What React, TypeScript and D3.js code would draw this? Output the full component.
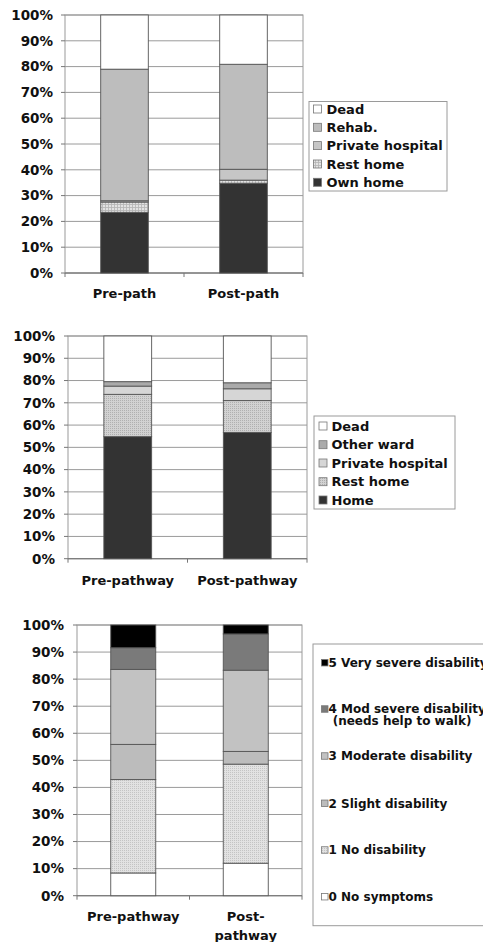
import React from "react";
import * as d3 from "d3";

// ---------- Chart 1 data ----------
const CATS1 = ["Pre-path", "Post-path"];
const SERIES1 = ["Own home", "Rest home", "Private hospital", "Rehab.", "Dead"];
const OWN_HOME1 = [23.5, 34.8];
const REST_HOME1 = [4.0, 1.2];
const PRIVATE_HOSP1 = [0.5, 4.2];
const REHAB1 = [51.0, 40.7];
const DEAD1 = [21.0, 19.1];

// ---------- Chart 2 data ----------
const CATS2 = ["Pre-pathway", "Post-pathway"];
const SERIES2 = ["Home", "Rest home", "Private hospital", "Other ward", "Dead"];
const HOME2 = [54.8, 56.7];
const REST_HOME2 = [19.0, 14.3];
const PRIVATE_HOSP2 = [3.7, 5.3];
const OTHER_WARD2 = [2.0, 2.7];
const DEAD2 = [20.5, 21.0];

// ---------- Chart 3 data ----------
const CATS3 = ["Pre-pathway", "Post-pathway"];
const CAT_LINES3 = [["Pre-pathway"], ["Post-", "pathway"]];
const SERIES3 = [
  "0 No symptoms",
  "1 No disability",
  "2 Slight disability",
  "3 Moderate disability",
  "4 Mod severe disability",
  "5 Very severe disability",
];
const NO_SYMPTOMS3 = [8.4, 12.0];
const NO_DISABILITY3 = [34.5, 36.6];
const SLIGHT3 = [13.0, 4.7];
const MODERATE3 = [27.7, 30.0];
const MOD_SEVERE3 = [8.0, 13.4];
const VERY_SEVERE3 = [8.4, 3.3];

const Y_TICKS = [0, 10, 20, 30, 40, 50, 60, 70, 80, 90, 100];

const FONT = "'DejaVu Sans', Verdana, sans-serif";

type Layout = {
  left: number;
  right: number;
  top: number;
  bottom: number;
  barFrac: number;
  tickLabelX: number;
  xLabelY: number;
};

function buildRows(cats: string[], series: string[], cols: number[][]) {
  return cats.map((c, i) => {
    const row: any = { cat: c };
    series.forEach((s, j) => (row[s] = cols[j][i]));
    return row;
  });
}

function StackChart(props: {
  cats: string[];
  catLines?: string[][];
  series: string[];
  cols: number[][];
  fills: string[];
  L: Layout;
}) {
  const { cats, series, cols, fills, L } = props;
  const rows = buildRows(cats, series, cols);
  const stack = d3.stack<any>().keys(series)(rows);
  const x = d3.scaleBand<string>().domain(cats).range([L.left, L.right]).padding(0);
  const y = d3.scaleLinear().domain([0, 100]).range([L.bottom, L.top]);
  const bw = x.bandwidth() * L.barFrac;
  const grid = "#9a9a9a";
  return (
    <g>
      <rect x={L.left} y={L.top} width={L.right - L.left} height={L.bottom - L.top} fill="#fff" stroke={grid} strokeWidth={1} />
      {Y_TICKS.map((t) => (
        <g key={t}>
          <line x1={L.left} x2={L.right} y1={y(t)} y2={y(t)} stroke={grid} strokeWidth={1} />
          <line x1={L.left - 4} x2={L.left} y1={y(t)} y2={y(t)} stroke="#777" strokeWidth={1} />
          <text x={L.tickLabelX} y={y(t)} dy="0.36em" textAnchor="end" fontFamily={FONT} fontWeight="bold" fontSize={13.5} fill="#111">
            {t}%
          </text>
        </g>
      ))}
      <line x1={L.left} x2={L.right} y1={L.bottom} y2={L.bottom} stroke="#777" strokeWidth={1} />
      {[L.left, (L.left + L.right) / 2, L.right].map((tx, i) => (
        <line key={i} x1={tx} x2={tx} y1={L.bottom} y2={L.bottom + 4} stroke="#777" strokeWidth={1} />
      ))}
      {stack.map((layer, si) =>
        layer.map((d, ci) => {
          const cx = (x(cats[ci]) as number) + x.bandwidth() / 2;
          return (
            <rect
              key={si + "-" + ci}
              x={cx - bw / 2}
              y={y(d[1])}
              width={bw}
              height={y(d[0]) - y(d[1])}
              fill={fills[si]}
              stroke="#555"
              strokeWidth={0.9}
            />
          );
        })
      )}
      {cats.map((c, ci) => {
        const cx = (x(c) as number) + x.bandwidth() / 2;
        const lines = props.catLines ? props.catLines[ci] : [c];
        return (
          <text key={c} x={cx} y={L.xLabelY} textAnchor="middle" fontFamily={FONT} fontWeight="bold" fontSize={13} fill="#111">
            {lines.map((ln, k) => (
              <tspan key={k} x={cx} dy={k === 0 ? "0.36em" : 18.5}>
                {ln}
              </tspan>
            ))}
          </text>
        );
      })}
    </g>
  );
}

function Legend(props: {
  items: { label: string[]; fill: string; y: number }[];
  box: { x: number; y: number; w: number; h: number };
  swX: number;
  sw: number;
  textX: number;
  fontSize: number;
}) {
  const { items, box, swX, sw, textX, fontSize } = props;
  return (
    <g>
      <rect x={box.x} y={box.y} width={box.w} height={box.h} fill="#fff" stroke="#9a9a9a" strokeWidth={1} />
      {items.map((it, i) => (
        <g key={i}>
          <rect x={swX} y={it.y - sw / 2} width={sw} height={sw} fill={it.fill} stroke="#777" strokeWidth={0.8} />
          <text x={textX} y={it.y} fontFamily={FONT} fontWeight="bold" fontSize={fontSize} fill="#111">
            {it.label.map((ln, k) => (
              <tspan key={k} x={textX} dy={k === 0 ? "0.36em" : fontSize}>
                {ln}
              </tspan>
            ))}
          </text>
        </g>
      ))}
    </g>
  );
}

export default function App() {
  const fills1 = ["#333333", "url(#hatch1)", "#c6c6c6", "#bdbdbd", "#ffffff"];
  const fills2 = ["#333333", "url(#dots2)", "#d6d6d6", "#aaaaaa", "#ffffff"];
  const fills3 = ["#ffffff", "url(#dots3)", "#bcbcbc", "#c2c2c2", "#7a7a7a", "#000000"];

  const L1: Layout = { left: 65, right: 303, top: 15, bottom: 273, barFrac: 0.4, tickLabelX: 53, xLabelY: 293 };
  const L2: Layout = { left: 68, right: 307, top: 336, bottom: 558.7, barFrac: 0.4, tickLabelX: 55, xLabelY: 580 };
  const L3: Layout = { left: 77, right: 302, top: 625, bottom: 895.7, barFrac: 0.4, tickLabelX: 64, xLabelY: 916.7 };

  const leg1Y = [109, 127.3, 145.6, 164, 182.3];
  const leg2Y = [426, 444.7, 463, 481.7, 500];
  const leg3Y = [896.7, 850, 803.3, 756, 709, 662.7];

  const legItems1 = [...SERIES1].reverse().map((s, i) => ({
    label: [s],
    fill: fills1[SERIES1.length - 1 - i],
    y: leg1Y[i],
  }));
  const legItems2 = [...SERIES2].reverse().map((s, i) => ({
    label: [s],
    fill: fills2[SERIES2.length - 1 - i],
    y: leg2Y[i],
  }));
  const legItems3 = SERIES3.map((s, i) => ({
    label: i === 4 ? [s, " (needs help to walk)"] : [s],
    fill: fills3[i],
    y: leg3Y[i],
  }));

  return (
    <svg width={483} height={942} style={{ position: "absolute", left: 0, top: 0, background: "#fff" }}>
      <defs>
        <pattern id="hatch1" width={3} height={3} patternUnits="userSpaceOnUse">
          <rect width={3} height={3} fill="#e2e2e2" />
          <path d="M0 0.5H3M0.5 0V3" stroke="#b4b4b4" strokeWidth={0.8} />
        </pattern>
        <pattern id="dots2" width={2} height={2} patternUnits="userSpaceOnUse">
          <rect width={2} height={2} fill="#d2d2d2" />
          <rect width={1} height={1} fill="#b0b0b0" />
        </pattern>
        <pattern id="dots3" width={2} height={2} patternUnits="userSpaceOnUse">
          <rect width={2} height={2} fill="#e2e2e2" />
          <rect width={1} height={1} fill="#c4c4c4" />
        </pattern>
      </defs>
      <rect width={483} height={942} fill="#fff" />
      <StackChart cats={CATS1} series={SERIES1} cols={[OWN_HOME1, REST_HOME1, PRIVATE_HOSP1, REHAB1, DEAD1]} fills={fills1} L={L1} />
      <Legend items={legItems1} box={{ x: 309, y: 101.5, w: 138, h: 89.5 }} swX={313.5} sw={8} textX={326.5} fontSize={13} />

      <StackChart cats={CATS2} series={SERIES2} cols={[HOME2, REST_HOME2, PRIVATE_HOSP2, OTHER_WARD2, DEAD2]} fills={fills2} L={L2} />
      <Legend items={legItems2} box={{ x: 314, y: 416, w: 141, h: 93 }} swX={319} sw={8} textX={331.5} fontSize={13} />

      <StackChart
        cats={CATS3}
        catLines={CAT_LINES3}
        series={SERIES3}
        cols={[NO_SYMPTOMS3, NO_DISABILITY3, SLIGHT3, MODERATE3, MOD_SEVERE3, VERY_SEVERE3]}
        fills={fills3}
        L={L3}
      />
      <Legend items={legItems3} box={{ x: 313, y: 644, w: 200, h: 281.7 }} swX={321.5} sw={6.5} textX={328.5} fontSize={12} />
    </svg>
  );
}
